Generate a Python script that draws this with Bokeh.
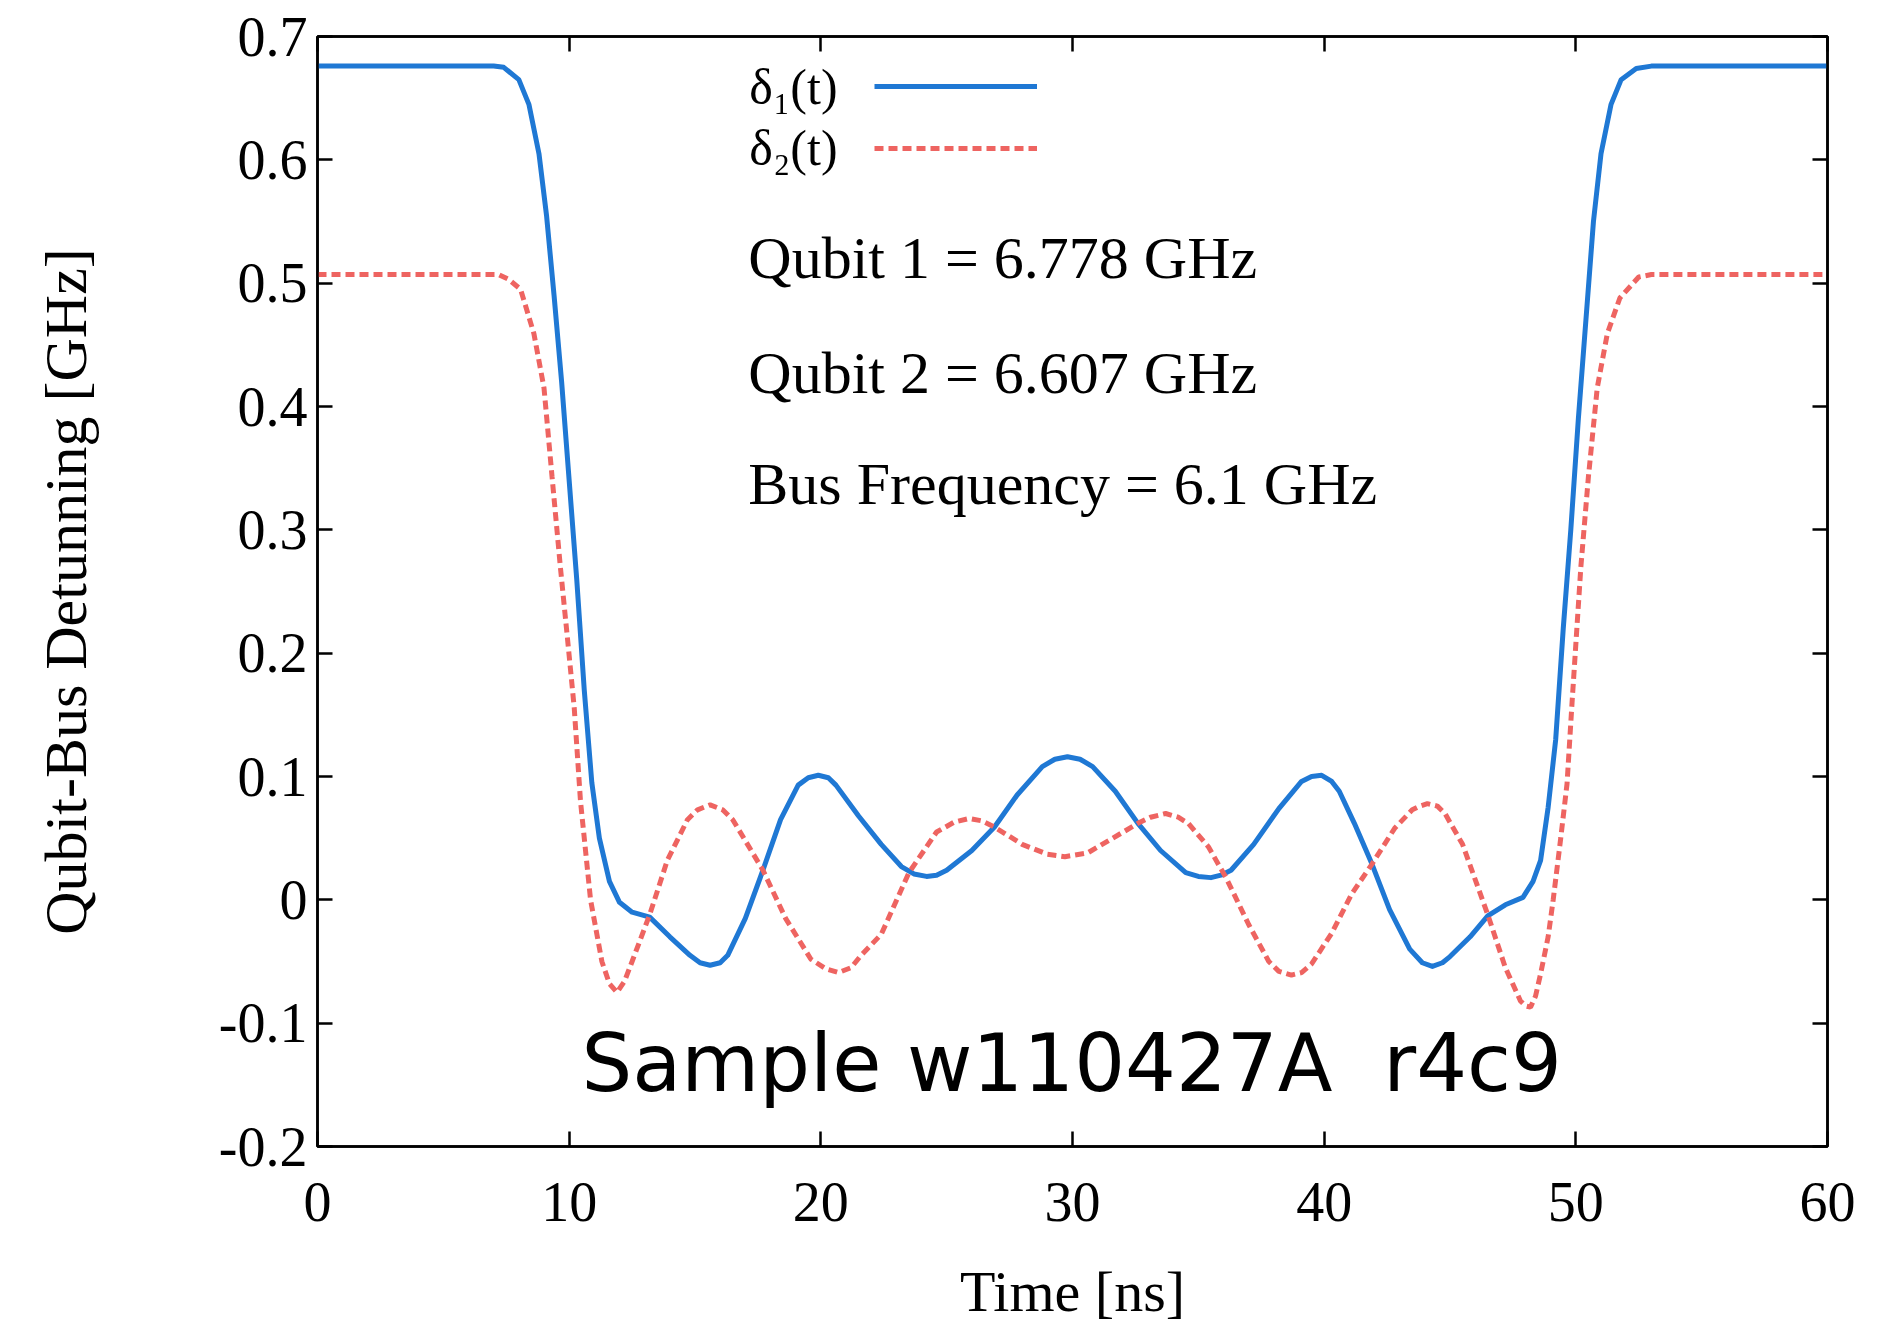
from bokeh.plotting import figure
from bokeh.models import (Range1d, LinearAxis, FixedTicker, CustomJSTickFormatter,
                          Label, Legend, LegendItem)
from bokeh.embed import file_html
from bokeh.resources import INLINE

# ---- data ----
t1 = [0, 7.0, 7.4, 8.0, 8.4, 8.8, 9.1, 9.4, 9.7, 10.0, 10.3, 10.6, 10.9, 11.2, 11.6, 12.0,
      12.5, 13.2, 14.0, 14.8, 15.2, 15.6, 16.0, 16.3, 17.0, 17.7, 18.4, 19.1, 19.5, 19.9,
      20.3, 20.6, 21.5, 22.4, 23.2, 23.7, 24.2, 24.6, 25.0, 26.0, 26.9, 27.8, 28.8, 29.3,
      29.8, 30.3, 30.8, 31.7, 32.6, 33.5, 34.5, 35.0, 35.5, 35.9, 36.3, 37.2, 38.2, 39.1,
      39.5, 39.9, 40.3, 40.6, 41.2, 41.9, 42.6, 43.4, 43.9, 44.3, 44.7, 45.0, 45.8, 46.5,
      47.2, 47.9, 48.3, 48.6, 48.9, 49.2, 49.5, 49.8, 50.1, 50.4, 50.7, 51.0, 51.4, 51.8,
      52.4, 53.0, 60]
delta1 = [0.676, 0.676, 0.675, 0.665, 0.645, 0.605, 0.555, 0.49, 0.42, 0.34, 0.26, 0.17,
          0.095, 0.05, 0.015, -0.002, -0.01, -0.014, -0.03, -0.045, -0.051, -0.053, -0.051,
          -0.045, -0.015, 0.024, 0.065, 0.093, 0.099, 0.101, 0.099, 0.093, 0.068, 0.045,
          0.027, 0.021, 0.019, 0.020, 0.024, 0.040, 0.059, 0.085, 0.108, 0.114, 0.116,
          0.114, 0.108, 0.088, 0.062, 0.040, 0.022, 0.019, 0.018, 0.020, 0.024, 0.045,
          0.074, 0.096, 0.100, 0.101, 0.096, 0.088, 0.062, 0.029, -0.008, -0.040, -0.051,
          -0.054, -0.051, -0.046, -0.030, -0.013, -0.004, 0.002, 0.015, 0.032, 0.075, 0.13,
          0.22, 0.30, 0.39, 0.47, 0.55, 0.605, 0.645, 0.665, 0.674, 0.676, 0.676]

t2 = [0, 7.2, 7.6, 8.07, 8.6, 9.0, 9.32, 9.65, 10.0, 10.2, 10.45, 10.85, 11.3, 11.6, 11.9,
      12.2, 12.5, 13.2, 13.9, 14.7, 15.1, 15.6, 16.1, 16.5, 17.7, 18.6, 19.6, 20.2, 20.7,
      21.2, 21.6, 22.4, 23.5, 24.6, 25.3, 25.9, 26.4, 26.9, 28.0, 29.0, 29.7, 30.6, 31.6,
      32.6, 33.1, 33.7, 34.2, 34.6, 35.4, 36.1, 37.0, 37.8, 38.2, 38.7, 39.1, 39.5, 40.3,
      41.1, 41.9, 42.8, 43.5, 43.8, 44.1, 44.5, 44.8, 45.5, 46.5, 47.2, 47.8, 48.0, 48.2,
      48.4, 48.6, 48.9, 49.1, 49.4, 49.65, 49.85, 50.2, 50.5, 50.85, 51.25, 51.75, 52.5,
      53.0, 60]
delta2 = [0.507, 0.507, 0.503, 0.495, 0.459, 0.415, 0.343, 0.27, 0.198, 0.156, 0.08, 0.0,
          -0.05, -0.068, -0.075, -0.066, -0.05, -0.012, 0.032, 0.065, 0.073, 0.077, 0.073,
          0.065, 0.024, -0.015, -0.048, -0.056, -0.059, -0.055, -0.045, -0.028, 0.022,
          0.055, 0.063, 0.066, 0.064, 0.059, 0.045, 0.037, 0.035, 0.038, 0.050, 0.062,
          0.067, 0.070, 0.067, 0.062, 0.043, 0.018, -0.020, -0.050, -0.058, -0.061, -0.059,
          -0.052, -0.027, 0.005, 0.029, 0.058, 0.073, 0.076, 0.078, 0.076, 0.070, 0.045,
          -0.012, -0.055, -0.082, -0.086, -0.087, -0.078, -0.06, -0.03, 0.0, 0.05, 0.094,
          0.16, 0.27, 0.343, 0.415, 0.459, 0.488, 0.505, 0.507, 0.507]

x_ticks = [0, 10, 20, 30, 40, 50, 60]
y_ticks = [-0.2, -0.1, 0.0, 0.1, 0.2, 0.3, 0.4, 0.5, 0.6, 0.7]
series_labels = ["δ₁(t)", "δ₂(t)"]
info_lines = ["Qubit 1 = 6.778 GHz", "Qubit 2 = 6.607 GHz", "Bus Frequency = 6.1 GHz"]
sample_text = "Sample w110427A \u00a0r4c9"

BLUE = "#1f78d4"
RED = "#ee6461"
SERIF = "Liberation Serif"

p = figure(width=1885, height=1330, output_backend="svg", toolbar_location=None,
           x_range=Range1d(0, 60), y_range=Range1d(-0.2, 0.7),
           min_border_left=317, min_border_right=58, min_border_top=36,
           min_border_bottom=184, x_axis_label="Time [ns]",
           y_axis_label="Qubit-Bus Detunning [GHz]")
p.grid.visible = False
p.outline_line_color = "black"
p.outline_line_width = 2.5
p.background_fill_color = "white"
p.border_fill_color = "white"

fmt = CustomJSTickFormatter(code="return (Math.round(tick*10)/10).toString();")
blank = CustomJSTickFormatter(code="return '';")

for ax in p.xaxis:
    ax.ticker = FixedTicker(ticks=x_ticks)
    ax.formatter = fmt
    ax.major_label_standoff = 36
    ax.axis_label_standoff = 35
for ax in p.yaxis:
    ax.ticker = FixedTicker(ticks=y_ticks)
    ax.formatter = fmt
    ax.major_label_standoff = 10
    ax.axis_label_standoff = 117

for ax in list(p.xaxis) + list(p.yaxis):
    ax.major_tick_in = 15
    ax.major_tick_out = 0
    ax.minor_tick_in = 0
    ax.minor_tick_out = 0
    ax.axis_line_width = 2.5
    ax.axis_line_color = "black"
    ax.major_tick_line_width = 2.5
    ax.major_tick_line_color = "black"
    ax.major_label_text_font = SERIF
    ax.major_label_text_font_size = "56px"
    ax.major_label_text_color = "black"
    ax.axis_label_text_font = SERIF
    ax.axis_label_text_font_size = "58px"
    ax.axis_label_text_font_style = "normal"
    ax.axis_label_text_color = "black"
p.yaxis.axis_label_text_font_size = "60px"

# mirrored axes (ticks only) on top and right
top = LinearAxis(ticker=FixedTicker(ticks=x_ticks), formatter=blank,
                 major_tick_in=15, major_tick_out=0, minor_tick_in=0, minor_tick_out=0,
                 axis_line_width=2.5, major_tick_line_width=2.5, major_label_standoff=0)
right = LinearAxis(ticker=FixedTicker(ticks=y_ticks), formatter=blank,
                   major_tick_in=15, major_tick_out=0, minor_tick_in=0, minor_tick_out=0,
                   axis_line_width=2.5, major_tick_line_width=2.5, major_label_standoff=0)
p.add_layout(top, "above")
p.add_layout(right, "right")

r1 = p.line(t1, delta1, line_color=BLUE, line_width=5, line_join="round")
r2 = p.line(t2, delta2, line_color=RED, line_width=5, line_dash="9 5")

legend = Legend(items=[LegendItem(label="", renderers=[r1]),
                       LegendItem(label="", renderers=[r2])],
                location=(557, 967), glyph_width=163, glyph_height=62, spacing=0,
                padding=0, margin=0, label_width=0, label_standoff=0,
                label_text_font_size="10px", border_line_color=None,
                background_fill_alpha=0)
p.add_layout(legend)

leg_y = [0.659, 0.610]
for txt, yy in zip(series_labels, leg_y):
    p.add_layout(Label(x=17.16, y=yy, text=txt, text_font=SERIF, text_font_size="50px",
                       text_baseline="alphabetic", text_align="left", text_color="black"))

info_y = [0.5205, 0.427, 0.337]
for txt, yy in zip(info_lines, info_y):
    p.add_layout(Label(x=17.12, y=yy, text=txt, text_font=SERIF, text_font_size="60px",
                       text_baseline="alphabetic", text_align="left", text_color="black"))

p.add_layout(Label(x=29.97, y=-0.1326, text=sample_text, text_font="DejaVu Sans",
                   text_font_size="80px", text_baseline="alphabetic", text_align="center",
                   text_color="black"))

open("out.html", "w").write(file_html(p, INLINE))
